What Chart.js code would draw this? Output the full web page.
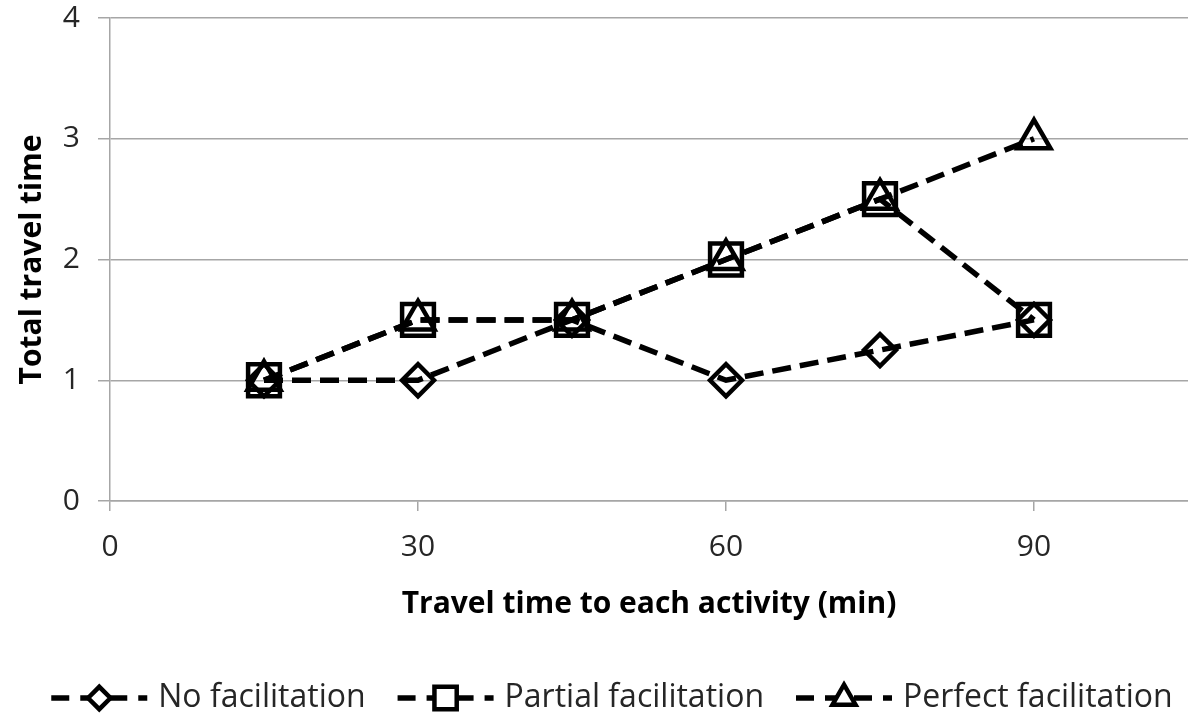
<!DOCTYPE html>
<html>
<head>
<meta charset="utf-8">
<script src="https://cdn.jsdelivr.net/npm/chart.js@4.4.0/dist/chart.umd.min.js"></script>
<style>
  html, body { margin: 0; padding: 0; background: #fff; }
</style>
</head>
<body>
<canvas id="travelChart" width="1188" height="721"></canvas>
<script>
// values
const travelMinutes = [15, 30, 45, 60, 75, 90];
const noFacilitation = [1, 1, 1.5, 1, 1.25, 1.5];
const partialFacilitation = [1, 1.5, 1.5, 2, 2.5, 1.5];
const perfectFacilitation = [1, 1.5, 1.5, 2, 2.5, 3];
const seriesNames = ['No facilitation', 'Partial facilitation', 'Perfect facilitation'];

const gridGrey = '#a6a6a6';
const textColor = '#262626';
const fontFamily = '"Open Sans", "DejaVu Sans", sans-serif';

function toPoints(values) {
  return values.map((v, i) => ({x: travelMinutes[i], y: v}));
}

function lineSeries(label, values, style, radius) {
  return {
    label: label,
    data: toPoints(values),
    borderColor: '#000',
    borderWidth: 5.5,
    borderDash: [19, 9],
    pointStyle: style,
    pointRadius: radius,
    pointHoverRadius: radius,
    pointBorderWidth: 4.5,
    pointBorderColor: '#000',
    pointBackgroundColor: 'rgba(255,255,255,0)',
    fill: false,
    tension: 0
  };
}

// legend with dashed line + marker, drawn under the chart
const dashLegend = {
  id: 'dashLegend',
  afterDraw(chart) {
    const ctx = chart.ctx;
    const items = chart.data.datasets;
    ctx.save();
    ctx.font = '32px ' + fontFamily;
    const symbolW = 96, textGap = 11, itemGap = 32;
    let total = 0;
    items.forEach((ds, i) => {
      total += symbolW + textGap + ctx.measureText(ds.label).width;
      if (i < items.length - 1) total += itemGap;
    });
    let x = 612 - total / 2;
    const y = 698;
    items.forEach(ds => {
      ctx.strokeStyle = '#000';
      ctx.lineWidth = 5.5;
      ctx.setLineDash([18, 11]);
      ctx.beginPath();
      ctx.moveTo(x, y);
      ctx.lineTo(x + symbolW, y);
      ctx.stroke();
      ctx.setLineDash([]);
      ctx.fillStyle = '#fff';
      ctx.lineWidth = 4.5;
      Chart.helpers.drawPoint(ctx, {
        pointStyle: ds.pointStyle,
        radius: ds.pointRadius * 0.7,
        borderWidth: 4.5,
        rotation: 0
      }, x + 48, y);
      ctx.fillStyle = textColor;
      ctx.textBaseline = 'middle';
      ctx.textAlign = 'left';
      ctx.fillText(ds.label, x + symbolW + textGap, y);
      x += symbolW + textGap + ctx.measureText(ds.label).width + itemGap;
    });
    ctx.restore();
  }
};

const config = {
  type: 'line',
  data: {
    datasets: [
      lineSeries(seriesNames[0], noFacilitation, 'rectRot', 16),
      lineSeries(seriesNames[1], partialFacilitation, 'rect', 22.5),
      lineSeries(seriesNames[2], perfectFacilitation, 'triangle', 19)
    ]
  },
  options: {
    responsive: false,
    animation: false,
    layout: {autoPadding: false, padding: {top: 18, right: 0, bottom: 90, left: 0}},
    plugins: {
      legend: {display: false},
      tooltip: {enabled: false}
    },
    scales: {
      x: {
        type: 'linear',
        min: 0,
        max: 105,
        afterFit: scale => {
          scale.height = 130;
          scale.paddingLeft = 0;
          scale.paddingRight = 0;
        },
        ticks: {
          stepSize: 30,
          includeBounds: false,
          color: textColor,
          padding: 18,
          font: {family: fontFamily, size: 30}
        },
        grid: {
          drawOnChartArea: false,
          color: gridGrey,
          lineWidth: 1.5,
          tickLength: 10
        },
        border: {color: gridGrey, width: 1.5},
        title: {
          display: true,
          text: 'Travel time to each activity (min)',
          color: '#000',
          font: {family: fontFamily, size: 30, weight: 'bold'},
          padding: {top: 0, bottom: 9}
        }
      },
      y: {
        min: 0,
        max: 4,
        afterFit: scale => {
          scale.width = 110;
          scale.paddingTop = 0;
          scale.paddingBottom = 0;
        },
        ticks: {
          stepSize: 1,
          color: textColor,
          padding: 18,
          font: {family: fontFamily, size: 30}
        },
        grid: {
          color: gridGrey,
          lineWidth: 1.5,
          tickLength: 12
        },
        border: {color: gridGrey, width: 1.5},
        title: {
          display: true,
          text: 'Total travel time',
          color: '#000',
          font: {family: fontFamily, size: 30, weight: 'bold'},
          padding: {top: 14, bottom: 0}
        }
      }
    }
  },
  plugins: [dashLegend]
};

const travelChart = new Chart(document.getElementById('travelChart'), config);
</script>
</body>
</html>
